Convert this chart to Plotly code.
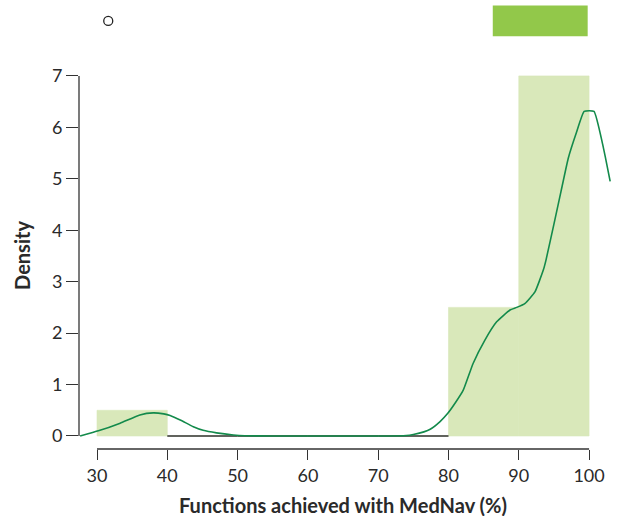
import plotly.graph_objects as go

# Histogram (density) data
bin_edges = [30, 40, 50, 60, 70, 80, 90, 100]
densities = [0.5, 0.0, 0.0, 0.0, 0.0, 2.5, 7.0]

# Kernel density curve
dens_x = [27.6, 30.2, 33.3, 36.1, 38.0, 39.5, 40.4, 42.0, 43.7, 45.1, 47.0, 49.4, 51.0,
          55.0, 60.0, 65.0, 70.0, 74.0, 75.0, 76.5, 77.4, 78.8, 79.9, 81.0, 82.1, 83.5,
          85.2, 86.85, 88.75, 89.7, 90.9, 92.3, 93.5, 93.87, 95.0, 96.0, 97.04, 98.2,
          99.3, 100.7, 101.9, 102.3, 103.0]
dens_y = [0.0, 0.10, 0.25, 0.41, 0.45, 0.43, 0.40, 0.30, 0.18, 0.11, 0.06, 0.02, 0.005,
          0.0, 0.0, 0.0, 0.0, 0.01, 0.03, 0.08, 0.13, 0.28, 0.44, 0.65, 0.89, 1.41,
          1.87, 2.22, 2.45, 2.50, 2.58, 2.80, 3.23, 3.42, 4.12, 4.75, 5.40, 5.90,
          6.31, 6.31, 5.69, 5.43, 4.95]

# Boxplot summary (box only) and outlier
box_q1 = 86.3
box_q3 = 99.8
outliers = [31.6]

x_ticks = [30, 40, 50, 60, 70, 80, 90, 100]
y_ticks = [0, 1, 2, 3, 4, 5, 6, 7]

x_title = "Functions achieved with MedNav (%)"
y_title = "Density"

BAR_COLOR = "#d9e8ba"
BOX_COLOR = "#92c84a"
CURVE_COLOR = "#138a4b"
AXIS_COLOR = "#333333"
TEXT_COLOR = "#2a2a2a"
FONT = "Lato"

centers = [(a + b) / 2 for a, b in zip(bin_edges[:-1], bin_edges[1:])]
widths = [b - a for a, b in zip(bin_edges[:-1], bin_edges[1:])]

fig = go.Figure()
fig.add_trace(go.Bar(x=centers, y=densities, width=widths,
                     marker=dict(color=BAR_COLOR, line=dict(width=0.6, color=BAR_COLOR)),
                     showlegend=False, hoverinfo="skip"))

# zero-height bins drawn as a baseline segment
zx, zy = [], []
for a, b, d in zip(bin_edges[:-1], bin_edges[1:], densities):
    if d == 0:
        zx += [a, b, None]
        zy += [0, 0, None]
fig.add_trace(go.Scatter(x=zx, y=zy, mode="lines",
                         line=dict(color=AXIS_COLOR, width=1.5),
                         showlegend=False, hoverinfo="skip"))

fig.add_trace(go.Scatter(x=dens_x, y=dens_y, mode="lines", line_shape="spline",
                         line=dict(color=CURVE_COLOR, width=1.6, smoothing=0.4),
                         showlegend=False))

box_y = 8.07
fig.add_trace(go.Bar(y=[box_y], x=[box_q3 - box_q1], base=[box_q1], orientation="h",
                     width=0.6, marker=dict(color=BOX_COLOR, line=dict(width=0)),
                     yaxis="y2", showlegend=False))
fig.add_trace(go.Scatter(x=outliers, y=[box_y] * len(outliers), mode="markers",
                         marker=dict(symbol="circle-open", size=9,
                                     color="#222222", line=dict(width=1.3)),
                         yaxis="y2", showlegend=False))

yrange = [-0.253, 8.476]
fig.update_layout(
    width=621, height=516,
    margin=dict(l=79, r=9, t=0, b=67),
    paper_bgcolor="white", plot_bgcolor="white",
    barmode="overlay",
    font=dict(family=FONT, color=TEXT_COLOR, size=18),
    xaxis=dict(range=[27.44, 103.26], tickvals=x_ticks, ticks="outside",
               ticklen=10, tickwidth=1.3, tickcolor=AXIS_COLOR, automargin=False,
               showline=False, showgrid=False, zeroline=False,
               tickfont=dict(size=18, color=TEXT_COLOR)),
    yaxis=dict(range=yrange, tickvals=y_ticks, ticks="outside",
               ticklen=12, tickwidth=1.3, tickcolor=AXIS_COLOR, automargin=False,
               showline=False, showgrid=False, zeroline=False,
               tickfont=dict(size=18, color=TEXT_COLOR)),
    yaxis2=dict(range=yrange, overlaying="y", visible=False, automargin=False),
    shapes=[
        dict(type="line", xref="x", yref="paper", x0=x_ticks[0], x1=x_ticks[-1],
             y0=0, y1=0, line=dict(color=AXIS_COLOR, width=1.3)),
        dict(type="line", xref="paper", yref="y", x0=0, x1=0,
             y0=y_ticks[0], y1=y_ticks[-1], line=dict(color=AXIS_COLOR, width=1.3)),
    ],
    annotations=[
        dict(text="<b>" + x_title + "</b>", xref="x", yref="paper",
             x=(x_ticks[0] + x_ticks[-1]) / 2, y=0, yanchor="middle", xanchor="center",
             yshift=-56, showarrow=False, font=dict(size=20, color=TEXT_COLOR)),
        dict(text="<b>" + y_title + "</b>", xref="paper", yref="y",
             x=0, y=3.5, xanchor="center", yanchor="middle", xshift=-57,
             textangle=-90, showarrow=False, font=dict(size=20, color=TEXT_COLOR)),
    ],
)

fig.write_html("out.html", config={"displayModeBar": False},
               post_script="document.body.style.margin='0px';document.body.style.overflow='hidden';")
